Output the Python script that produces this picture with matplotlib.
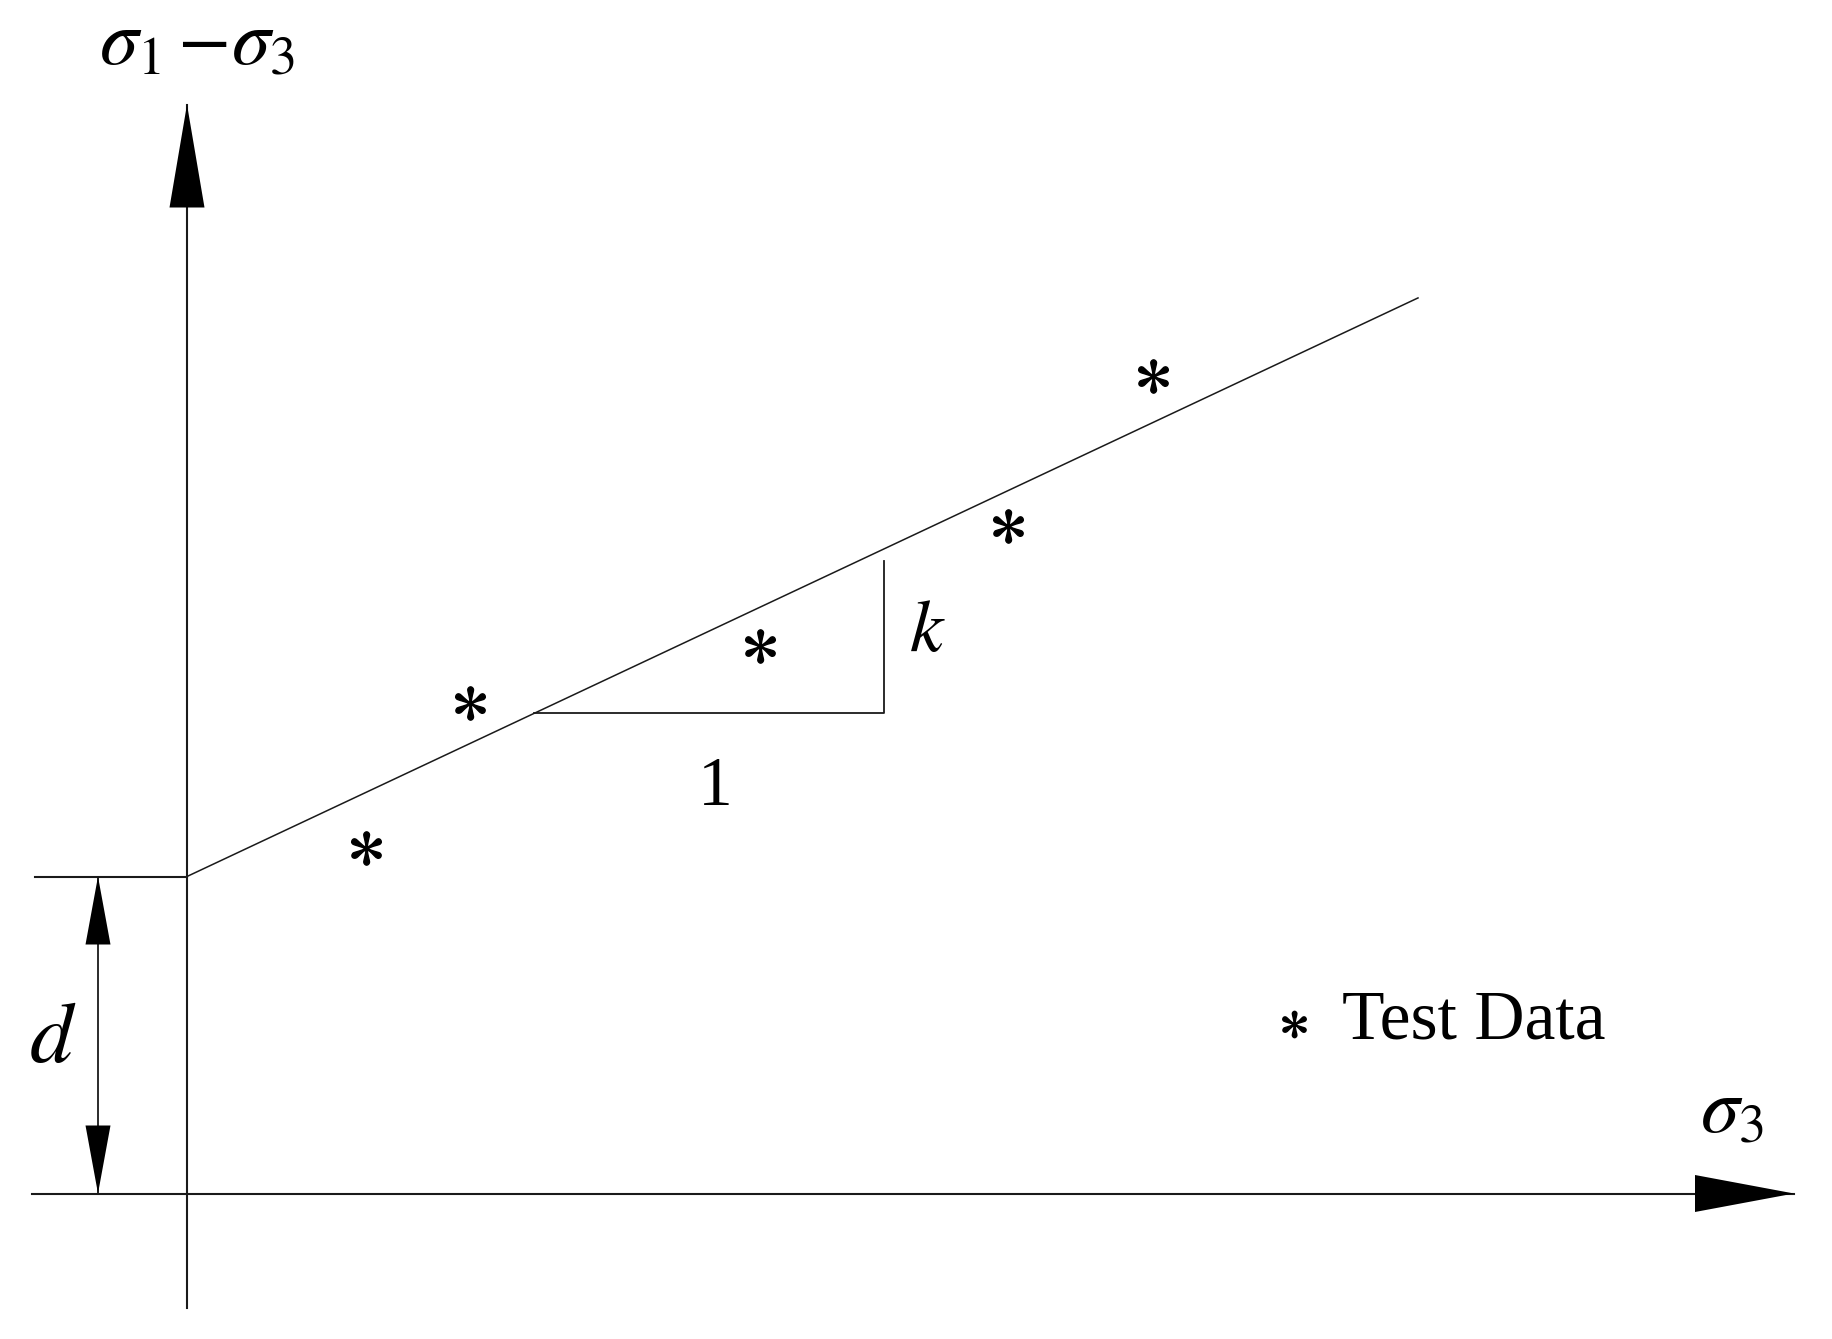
import numpy as np
import matplotlib.pyplot as plt

plt.rcParams['mathtext.fontset'] = 'stix'
plt.rcParams['font.family'] = ['Liberation Serif', 'DejaVu Serif']

# schematic: linear fit of deviator stress vs confining stress
# sigma1 - sigma3 = d + k * sigma3
d = 3.17
k = 0.47
line_x = [0.0, 12.31]

# test data (sigma3, sigma1 - sigma3)
test_sigma3 = [1.79, 2.83, 5.73, 8.21, 9.66]
test_dev = [3.46, 4.91, 5.48, 6.68, 8.18]

# slope triangle legs along sigma3
tri_x = [3.47, 6.97]

# axis extents
x_axis = [-1.55, 16.07]
y_axis = [-1.14, 10.89]

fig = plt.figure(figsize=(18.33, 13.39), dpi=100)
ax = fig.add_axes([0, 0, 1, 1])
ax.set_xlim(-1.87, 16.46)
ax.set_ylim(-1.455, 11.935)
ax.axis('off')

col = '#1a1a1a'


def arrow_head(ax, tip, base, half_w):
    # filled triangle from base centre to tip
    tip = np.array(tip)
    base = np.array(base)
    d_ = tip - base
    n = np.array([-d_[1], d_[0]]) / np.hypot(*d_) * half_w
    pts = np.array([tip, base + n, base - n])
    ax.fill(pts[:, 0], pts[:, 1], color='black', lw=0, zorder=3)


# axes with arrowheads
ax.plot(x_axis, [0, 0], color=col, lw=1.5)
ax.plot([0, 0], y_axis, color=col, lw=1.5)
arrow_head(ax, (x_axis[1], 0), (x_axis[1] - 0.99, 0), 0.185)
arrow_head(ax, (0, y_axis[1]), (0, y_axis[1] - 1.03), 0.175)

# fitted line
lx = np.array(line_x)
ax.plot(lx, d + k * lx, color=col, lw=1.1)

# intercept marker and d dimension
ax.plot([-1.52, 0], [d, d], color=col, lw=1.5)
ax.plot([-0.89, -0.89], [0, d], color=col, lw=1.3)
arrow_head(ax, (-0.89, d), (-0.89, d - 0.68), 0.125)
arrow_head(ax, (-0.89, 0), (-0.89, 0.68), 0.125)
ax.text(-1.34, 1.52, '$d$', fontsize=62, ha='center', va='center')

# slope triangle
y0 = d + k * tri_x[0]
y1 = d + k * tri_x[1] - 0.12
ax.plot([tri_x[0], tri_x[1], tri_x[1]], [y0, y0, y1], color=col, lw=1.3)
ax.text(5.28, 4.05, '1', fontsize=50, ha='center', va='center')
ax.text(7.40, 5.60, '$k$', fontsize=54, ha='center', va='center')

# test data
ax.plot(test_sigma3, test_dev, ls='none', marker=r'$\ast$', ms=24, color='black')

# legend
ax.plot([11.07], [1.70], ls='none', marker=r'$\ast$', ms=19, color='black')
ax.text(11.55, 1.72, 'Test Data', fontsize=50, ha='left', va='center')

# axis labels
ax.text(0.105, 11.48, r'$\sigma_1\,{-}\sigma_3$', fontsize=56, ha='center', va='center')
ax.text(15.45, 0.80, r'$\sigma_3$', fontsize=56, ha='center', va='center')

fig.savefig('out.png', dpi=100)
